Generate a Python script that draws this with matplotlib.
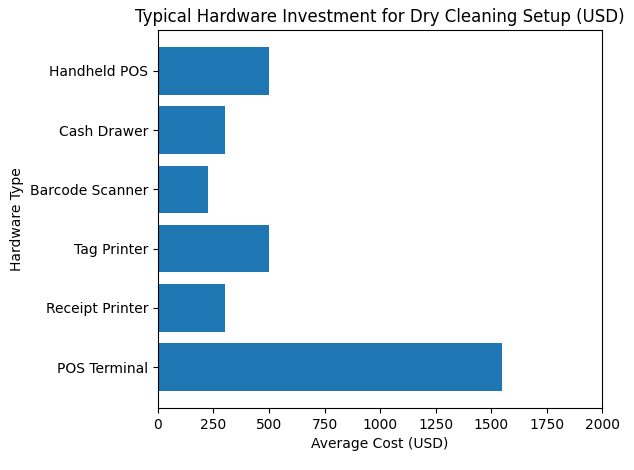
import matplotlib
matplotlib.use("Agg")
import matplotlib.pyplot as plt

# ハードウェア種別と平均コスト
hardware = ["POS Terminal", "Receipt Printer", "Tag Printer",
            "Barcode Scanner", "Cash Drawer", "Handheld POS"]
costs = [1550, 300, 500, 225, 300, 500]

fig, ax = plt.subplots(figsize=(6.34, 4.7), dpi=100)
ax.barh(hardware, costs, color="#1f77b4")
ax.set_xlim(0, 2000)
ax.set_xlabel("Average Cost (USD)")
ax.set_ylabel("Hardware Type")
ax.set_title("Typical Hardware Investment for Dry Cleaning Setup (USD)")
fig.subplots_adjust(left=0.249, right=0.95, top=0.936, bottom=0.132)
plt.savefig("out.png")
